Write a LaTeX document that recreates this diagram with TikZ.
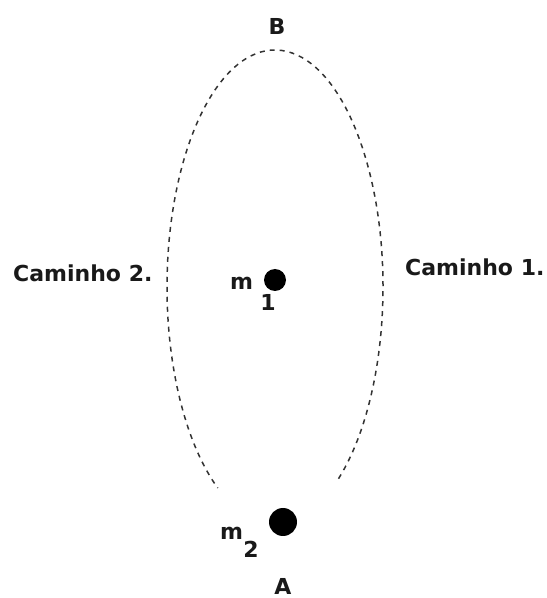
\documentclass[tikz,border=0pt]{standalone}
\usepackage{fontspec}
\setmainfont{DejaVu Sans}
\begin{document}
\begin{tikzpicture}[x=1pt,y=1pt,
  lbl/.style={inner sep=0pt,font=\fontsize{22}{26}\selectfont\bfseries,text=black!90},
  mass/.style={circle,fill=black,inner sep=0pt},
  pathline/.style={draw=black!80,line width=1.5pt,dash pattern=on 5pt off 5pt}]
\useasboundingbox (0,0) rectangle (547,598);
\coordinate (ctr) at (275,311);
\draw[pathline] (ctr) ++(-54:108 and 237) arc[start angle=-54,end angle=238,x radius=108,y radius=237];
\node[lbl,anchor=base] (B) at (277,563) {B};
\node[lbl,anchor=base] (A) at (283,4) {A};
\node[lbl,anchor=base west] (c2) at (13,316) {Caminho 2.};
\node[lbl,anchor=base west] (c1) at (405,322) {Caminho 1.};
\node[mass,minimum size=22pt] (m1dot) at (275,318) {};
\node[mass,minimum size=28pt] (m2dot) at (283,76) {};
\node[lbl,anchor=base west] (m1) at (230,308) {m};
\node[lbl,anchor=base] (s1) at (268,287) {1};
\node[lbl,anchor=base west] (m2) at (220,58) {m};
\node[lbl,anchor=base] (s2) at (251,41) {2};
\end{tikzpicture}
\end{document}
